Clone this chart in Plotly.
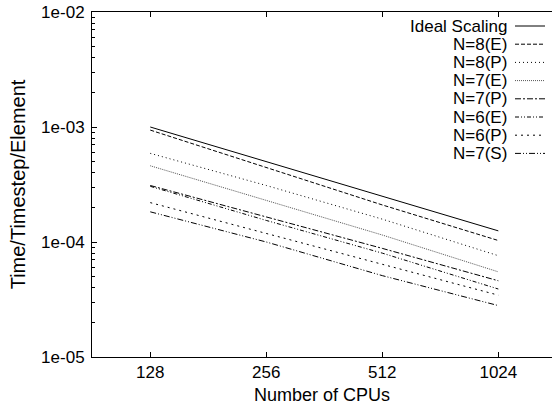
import plotly.graph_objects as go
import numpy as np

# Number of CPUs
cpus = [128, 256, 512, 1024]

# Time per timestep per element for each run
ideal = [1.0e-3, 5.0e-4, 2.5e-4, 1.25e-4]
n8_e = [9.4e-4, 4.45e-4, 2.1e-4, 1.03e-4]
n8_p = [5.9e-4, 3.1e-4, 1.58e-4, 7.6e-5]
n7_e = [4.6e-4, 2.3e-4, 1.15e-4, 5.5e-5]
n7_p = [3.1e-4, 1.66e-4, 8.8e-5, 4.6e-5]
n6_e = [3.05e-4, 1.54e-4, 8.0e-5, 3.9e-5]
n6_p = [2.2e-4, 1.18e-4, 6.4e-5, 3.45e-5]
n7_s = [1.83e-4, 1.0e-4, 5.1e-5, 2.8e-5]

series_names = ["Ideal Scaling", "N=8(E)", "N=8(P)", "N=7(E)",
                "N=7(P)", "N=6(E)", "N=6(P)", "N=7(S)"]
series_values = [ideal, n8_e, n8_p, n7_e, n7_p, n6_e, n6_p, n7_s]

x_ticks = [128, 256, 512, 1024]
x_tick_labels = ["128", "256", "512", "1024"]
y_ticks = [1e-5, 1e-4, 1e-3, 1e-2]
y_tick_labels = ["1e-05", "1e-04", "1e-03", "1e-02"]

# gnuplot-like line patterns
dashes = [
    "solid",
    "4px,2px",
    "1px,3px",
    "1px,1px",
    "6px,2px,2px,2px",
    "4px,2px,1px,2px,1px,2px",
    "2px,4px",
    "6px,2px,1px,2px,1px,2px",
]
colors = ["black", "black", "black", "#555555", "black", "black", "black", "black"]

FONT = "Liberation Sans, Arial, Helvetica, sans-serif"
FS = 17
W, H = 552, 405
ML, MR, MT, MB = 92, 0, 12, 48

fig = go.Figure()
for name, vals, dash, col in zip(series_names, series_values, dashes, colors):
    fig.add_trace(go.Scatter(
        x=cpus, y=vals, mode="lines", name=name,
        line=dict(color=col, width=1, dash=dash),
        showlegend=False,
    ))

# Key drawn gnuplot-style: label on the left, line sample on the right
pw = W - ML - MR
ph = H - MT - MB
def px_to_paper_x(px):
    return (px - ML) / pw
def px_to_paper_y(py):
    return (H - MB - py) / ph

annotations = []
shapes = []
for i, (name, dash, col) in enumerate(zip(series_names, dashes, colors)):
    row_y = 26 + i * 18.2
    annotations.append(dict(
        x=px_to_paper_x(509), y=px_to_paper_y(row_y), xref="paper", yref="paper",
        text=name, showarrow=False, xanchor="right", yanchor="middle",
        font=dict(family=FONT, size=FS, color="black"),
    ))
    shapes.append(dict(
        type="line", xref="paper", yref="paper",
        x0=px_to_paper_x(515), x1=px_to_paper_x(545),
        y0=px_to_paper_y(row_y), y1=px_to_paper_y(row_y),
        line=dict(color=col, width=1, dash=dash),
    ))

minor_vals = [m * 10.0 ** e for e in range(-5, -2) for m in range(2, 10)]

x_lo = np.log10(128) - (58.3 / 116.1) * np.log10(2)
x_hi = np.log10(1024) + ((W - 498.3) / 116.1) * np.log10(2)

fig.update_layout(
    width=W, height=H,
    margin=dict(l=ML, r=MR, t=MT, b=MB, pad=0),
    paper_bgcolor="white", plot_bgcolor="white",
    font=dict(family=FONT, size=FS, color="black"),
    annotations=annotations,
    shapes=shapes,
    xaxis=dict(
        type="log", range=[x_lo, x_hi],
        tickmode="array", tickvals=x_ticks, ticktext=x_tick_labels,
        ticks="inside", ticklen=5, tickcolor="black",
        showline=True, linecolor="black", linewidth=1, mirror="ticks",
        showgrid=False, zeroline=False,
        title=dict(text="Number of CPUs", standoff=7,
                   font=dict(family=FONT, size=18)),
        tickfont=dict(family=FONT, size=FS),
    ),
    yaxis=dict(
        type="log", range=[-5, -2],
        tickmode="array", tickvals=y_ticks, ticktext=y_tick_labels,
        ticks="inside", ticklen=5, tickcolor="black",
        ticklabelstandoff=3,
        minor=dict(ticks="inside", ticklen=3, tickcolor="black",
                   tickmode="array", tickvals=minor_vals, showgrid=False),
        showline=True, linecolor="black", linewidth=1, mirror=False,
        showgrid=False, zeroline=False,
        title=dict(text="Time/Timestep/Element", standoff=10,
                   font=dict(family=FONT, size=20)),
        tickfont=dict(family=FONT, size=FS),
    ),
)

fig.write_html("out.html")
